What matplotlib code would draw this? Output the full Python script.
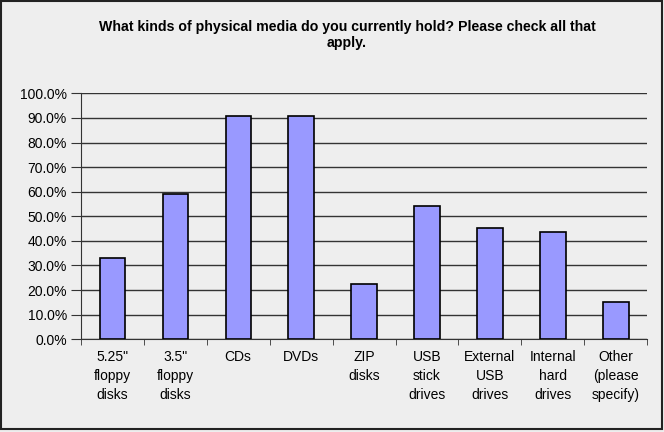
import matplotlib
matplotlib.use("Agg")
import matplotlib.pyplot as plt
from matplotlib.ticker import PercentFormatter, FixedLocator, NullFormatter
from matplotlib.patches import Rectangle

categories = ['5.25"\nfloppy\ndisks', '3.5"\nfloppy\ndisks', 'CDs', 'DVDs', 'ZIP\ndisks',
              'USB\nstick\ndrives', 'External\nUSB\ndrives', 'Internal\nhard\ndrives',
              'Other\n(please\nspecify)']
values = [0.330, 0.592, 0.909, 0.909, 0.226, 0.543, 0.454, 0.437, 0.150]
yticks = [0.0, 0.1, 0.2, 0.3, 0.4, 0.5, 0.6, 0.7, 0.8, 0.9, 1.0]
title = "What kinds of physical media do you currently hold? Please check all that\napply."

plt.rcParams['font.family'] = ['Liberation Sans', 'DejaVu Sans']
bg = '#eeeeee'
fig = plt.figure(figsize=(6.64, 4.32), dpi=100, facecolor=bg)
ax = fig.add_axes([0.1215, 0.2146, 0.8535, 0.5694], facecolor=bg)

x = list(range(len(categories)))
ax.bar(x, values, width=0.4, color='#9999ff', edgecolor='#000000', linewidth=1.2, zorder=3)

ax.set_xlim(-0.5, len(categories) - 0.5)
ax.set_ylim(0, 1.0)
ax.set_yticks(yticks)
ax.yaxis.set_major_formatter(PercentFormatter(1.0, decimals=1))
ax.grid(axis='y', color='#333333', linewidth=1.0, zorder=0)
ax.set_axisbelow(True)

ax.set_xticks(x)
ax.set_xticklabels(categories, fontsize=10, linespacing=1.42, va='top')
ax.tick_params(axis='x', length=0, pad=8)
ax.xaxis.set_minor_locator(FixedLocator([i - 0.5 for i in range(len(categories) + 1)]))
ax.xaxis.set_minor_formatter(NullFormatter())
ax.tick_params(axis='x', which='minor', length=4, direction='out', color='#333333')
ax.tick_params(axis='y', labelsize=10, length=7, direction='out', color='#333333', pad=3)

for s in ['top', 'right']:
    ax.spines[s].set_visible(False)
ax.spines['left'].set_color('#333333')
ax.spines['bottom'].set_color('#333333')

fig.text(347 / 664, 1 - 20 / 432, title, ha='center', va='top', fontsize=10.2,
         fontweight='bold', linespacing=1.2)

fig.patches.append(Rectangle((1 / 664, 3 / 432), 661 / 664, 428 / 432, transform=fig.transFigure,
                             fill=False, edgecolor='#222222', linewidth=1.5))

fig.savefig('out.png', dpi=100, facecolor=bg)
